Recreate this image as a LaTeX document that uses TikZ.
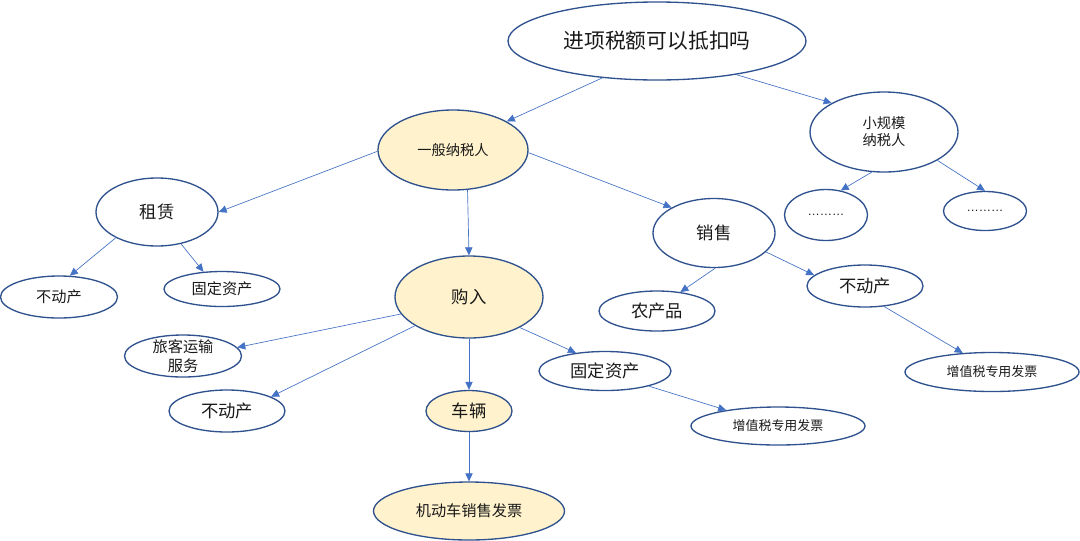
\documentclass[tikz,border=0pt]{standalone}
\usepackage{fontspec}
\setmainfont{Noto Sans CJK SC}
\newfontfamily\dotfont{Liberation Sans}
\usetikzlibrary{shapes.geometric,arrows.meta}

\definecolor{rim}{HTML}{2F528F}
\definecolor{link}{HTML}{4472C4}
\definecolor{cream}{HTML}{FFF2CC}

\tikzset{
    bub/.style={ellipse, draw=rim, line width=1pt, inner sep=0pt, align=center, text=black!90},
    hot/.style={bub, fill=cream},
    sz/.style 2 args={minimum width=#1*0.75pt, minimum height=#2*0.75pt},
    arr/.style={draw=link, line width=0.5pt, -{Triangle[length=6pt,width=5.5pt]}},
    ftop/.style={font=\fontsize{15.6}{19}\selectfont},
    fmid/.style={font=\fontsize{13}{16}\selectfont},
    fsml/.style={font=\fontsize{11.4}{14}\selectfont},
    fgen/.style={font=\fontsize{10.7}{12.8}\selectfont},
    ftny/.style={font=\fontsize{9.7}{12}\selectfont},
}

\begin{document}
\begin{tikzpicture}[x=0.75pt, y=-0.75pt]
\useasboundingbox (0,0) rectangle (1080,540);

% ----------------------------------------------------------
% Top question and the two kinds of taxpayer
% ----------------------------------------------------------
\node[bub, sz={298}{78}, ftop] (root) at (657,41) {进项税额可以抵扣吗};
\node[hot, sz={150}{80}, fgen] (gen) at (453,150) {一般纳税人};
\node[bub, sz={148}{80}, fgen] (small) at (884,132) {小规模\\纳税人};

\node[bub, sz={83}{51}, font=\dotfont\fontsize{9.2}{11}\selectfont] (dots1) at (826,215) {………};
\node[bub, sz={83}{39}, font=\dotfont\fontsize{9.2}{11}\selectfont] (dots2) at (985,211) {………};

% ----------------------------------------------------------
% Lease and sale
% ----------------------------------------------------------
\node[bub, sz={122}{68}, fmid] (lease) at (157,212) {租赁};
\node[bub, sz={117}{42}, fsml] (bud1) at (59,297) {不动产};
\node[bub, sz={116}{35}, fsml] (fix1) at (222,289) {固定资产};

\node[bub, sz={122}{69}, fmid] (sell) at (714,233) {销售};
\node[bub, sz={116}{40}, fmid] (agri) at (657,311) {农产品};
\node[bub, sz={116}{42}, fmid] (bud2) at (865,286) {不动产};
\node[bub, sz={174}{39}, ftny] (vat1) at (992,372) {增值税专用发票};

% ----------------------------------------------------------
% Purchase
% ----------------------------------------------------------
\node[hot, sz={148}{82}, fmid] (buy) at (469,297) {购入};
\node[bub, sz={117}{42}, fsml, inner ysep=-2pt] (travel) at (183,356) {旅客运输\\服务};
\node[bub, sz={116}{42}, fmid] (bud3) at (227,411) {不动产};
\node[hot, sz={86}{41}, fmid] (car) at (469,411) {车辆};
\node[bub, sz={132}{39}, fmid] (fix2) at (605,371) {固定资产};
\node[bub, sz={174}{38}, ftny] (vat2) at (778,426) {增值税专用发票};
\node[hot, sz={191}{58}, fsml] (motor) at (469,511) {机动车销售发票};

% ----------------------------------------------------------
% Arrows
% ----------------------------------------------------------
\foreach \a/\b in {root.214/gen.28, root.337/small.151, gen.181/lease.0,
    gen.290/buy.north, gen.358/sell.149, small.253/dots1.59, small.332/dots2.north,
    lease.212/bud1.63, lease.307/fix1.137, sell.272/agri.39, sell.340/bud2.168,
    bud2.313/vat1.147, buy.194/travel.9, buy.208/bud3.18, buy.south/car.north,
    buy.329/fix2.148, fix2.341/vat2.163, car.south/motor.north} {
    \draw[arr] (\a) -- (\b);
}

\end{tikzpicture}
\end{document}
